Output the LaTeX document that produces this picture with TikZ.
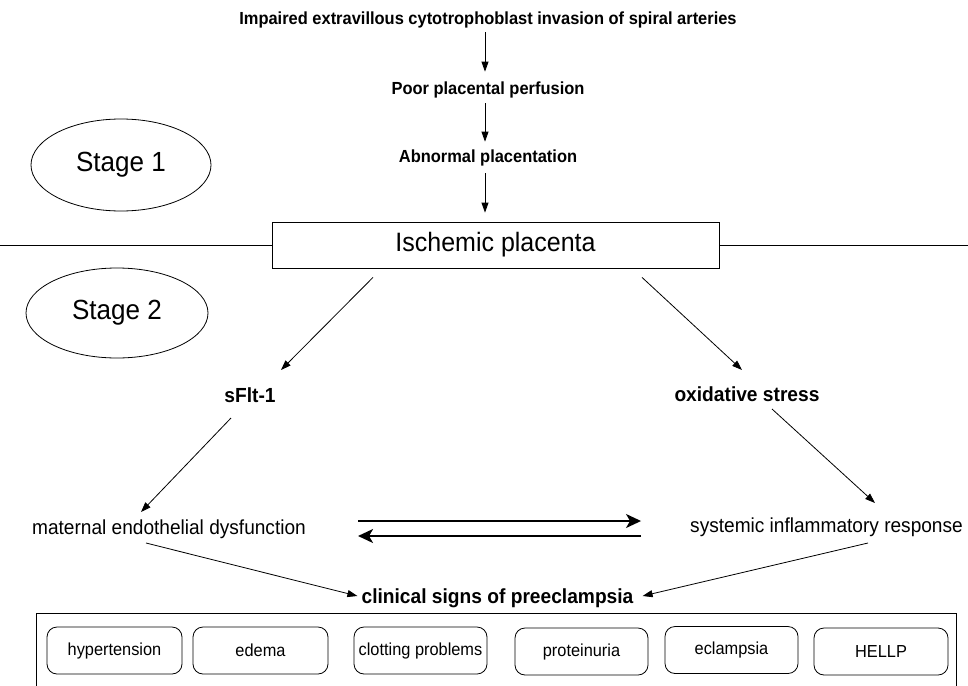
\documentclass[tikz,border=0pt]{standalone}
\usepackage{fontspec}
\setmainfont{Liberation Sans}[FakeStretch=0.94]
\usetikzlibrary{arrows.meta,calc,shapes.geometric}
\begin{document}
\begin{tikzpicture}[x=1pt,y=-1pt,
  bt/.style={font=\fontsize{17.5}{20}\selectfont\bfseries, inner sep=1pt},
  bm/.style={font=\fontsize{20.4}{23}\selectfont\bfseries, inner sep=1pt},
  rt/.style={font=\fontsize{20.3}{23}\selectfont, inner sep=1pt},
  arr/.style={line width=0.8pt, -{Triangle[length=10pt,width=7pt]}},
  dbl/.style={line width=1.8pt, -{Stealth[length=15pt,width=14pt,inset=4pt]}},
  stage/.style={draw, ellipse, line width=0.8pt, inner sep=0pt, font=\fontsize{27.7}{31}\selectfont},
  sign/.style={draw, rounded corners=10pt, line width=0.8pt, minimum height=47pt, inner sep=1pt, font=\fontsize{17.4}{20}\selectfont}]
\useasboundingbox (0,0) rectangle (968,685);
\fill[white] (0,0) rectangle (968,685);
% stage 1
\node[bt] (t1) at (488,20) {Impaired extravillous cytotrophoblast invasion of spiral arteries};
\node[bt] (t2) at (488,90) {Poor placental perfusion};
\node[bt] (t3) at (488,158) {Abnormal placentation};
\node[draw, line width=0.8pt, minimum width=447pt, minimum height=46pt, inner sep=0pt, font=\fontsize{26.6}{30}\selectfont] (isch) at (495.5,245) {Ischemic placenta};
\draw[arr] ($(t1.south)+(-3,3)$) -- ($(t2.north)+(-3,-9)$);
\draw[arr] ($(t2.south)+(-3,4)$) -- ($(t3.north)+(-3,-7)$);
\draw[arr] ($(t3.south)+(-3,6)$) -- ($(isch.north)+(-10.5,-9)$);
\coordinate (hl) at (0,245);
\coordinate (hr) at (968,245);
\draw[line width=0.8pt] (hl) -- (isch.west);
\draw[line width=0.8pt] (isch.east) -- (hr);
\node[stage, minimum width=180pt, minimum height=92pt] (s1) at (121,165) {Stage 1};
\node[stage, minimum width=182pt, minimum height=90pt] (s2) at (117,313) {Stage 2};
% stage 2
\node[bm] (sflt) at (250,395) {sFlt-1};
\node[bm] (ox) at (747,394) {oxidative stress};
\draw[arr] ($(isch.south)+(-122.5,9)$) -- ($(sflt)+(31,-25)$);
\draw[arr] ($(isch.south)+(146.5,9)$) -- ($(ox)+(-5,-24)$);
\node[rt] (mat) at (169,529) {maternal endothelial dysfunction};
\node[rt] (sys) at (826.5,527) {systemic inflammatory response};
\draw[arr] ($(sflt)+(-19,23)$) -- ($(mat)+(-28,-17)$);
\draw[arr] ($(ox)+(25,15)$) -- ($(sys)+(48.5,-24)$);
\draw[dbl] ($(mat.east)+(51,-8)$) -- ($(sys.west)+(-48,-6)$);
\draw[dbl] ($(sys.west)+(-48,9)$) -- ($(mat.east)+(51,7)$);
\node[bm] (clin) at (497.5,598) {clinical signs of preeclampsia};
\draw[arr] ($(mat)+(-23,14)$) -- ($(clin.west)+(-3,-2)$);
\draw[arr] ($(sys)+(41.5,16)$) -- ($(clin.east)+(8,-2)$);
% signs
\node[draw, line width=0.8pt, anchor=north west, minimum width=920pt, minimum height=90pt, inner sep=0pt] (outer) at (36,613) {};
\node[sign, minimum width=135pt] (b1) at (114.5,650.5) {hypertension};
\node[sign, minimum width=135pt] (b2) at (260.5,650.5) {edema};
\node[sign, minimum width=133pt] (b3) at (420.5,650.5) {clotting problems};
\node[sign, minimum width=133pt] (b4) at (581.5,651.5) {proteinuria};
\node[sign, minimum width=133pt] (b5) at (731.5,650) {eclampsia};
\node[sign, minimum width=134pt] (b6) at (881,651.5) {HELLP};
\end{tikzpicture}
\end{document}
